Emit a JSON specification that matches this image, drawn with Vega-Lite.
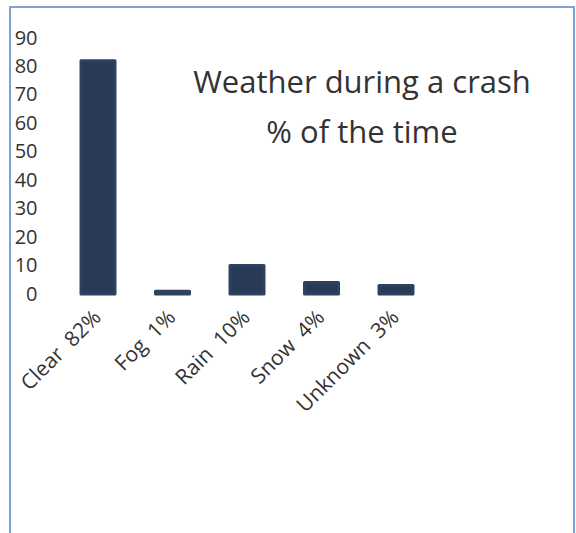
{
  "$schema": "https://vega.github.io/schema/vega-lite/v6.json",
  "autosize": {"type": "none"},
  "padding": {"left": 10, "top": 7, "right": 2, "bottom": 0},
  "width": 564,
  "height": 530,
  "background": "white",
  "config": {
    "view": {"stroke": "#7ea2cf", "strokeWidth": 2},
    "font": "Open Sans"
  },
  "title": {
    "text": ["Weather during a crash", "% of the time"],
    "orient": "top",
    "anchor": "middle",
    "frame": "group",
    "font": "Open Sans",
    "fontSize": 31,
    "fontWeight": "normal",
    "color": "#333333",
    "lineHeight": 50,
    "baseline": "top",
    "offset": -143,
    "dx": 70
  },
  "data": {
    "values": [
      {"label": "Clear\u00a0 82%", "pct": 82},
      {"label": "Fog\u00a0 1%", "pct": 1},
      {"label": "Rain\u00a0 10%", "pct": 10},
      {"label": "Snow\u00a0 4%", "pct": 4},
      {"label": "Unknown\u00a0 3%", "pct": 3}
    ]
  },
  "mark": {"type": "bar", "color": "#283a56", "stroke": "#2f4160", "strokeWidth": 3, "strokeJoin": "round"},
  "encoding": {
    "x": {
      "field": "label",
      "type": "nominal",
      "sort": null,
      "scale": {"range": [50.75, 423.25], "paddingInner": 0.544, "paddingOuter": 0.272},
      "axis": {
        "title": null,
        "orient": "bottom",
        "offset": -241,
        "domain": false,
        "ticks": false,
        "tickSize": 0,
        "labelAngle": -45,
        "labelAlign": "right",
        "labelBaseline": "middle",
        "labelPadding": 18,
        "labelFont": "Open Sans",
        "labelFontSize": 21,
        "labelColor": "#333333",
        "grid": false
      }
    },
    "y": {
      "field": "pct",
      "type": "quantitative",
      "scale": {"domain": [-85.43, 100.9], "nice": false, "zero": false},
      "axis": {
        "title": null,
        "orient": "left",
        "offset": -27,
        "values": [0, 10, 20, 30, 40, 50, 60, 70, 80, 90],
        "domain": false,
        "ticks": false,
        "tickSize": 0,
        "labelPadding": 0,
        "labelFont": "Open Sans",
        "labelFontSize": 20,
        "labelColor": "#333333",
        "grid": false
      }
    },
    "y2": {"datum": 0}
  }
}
